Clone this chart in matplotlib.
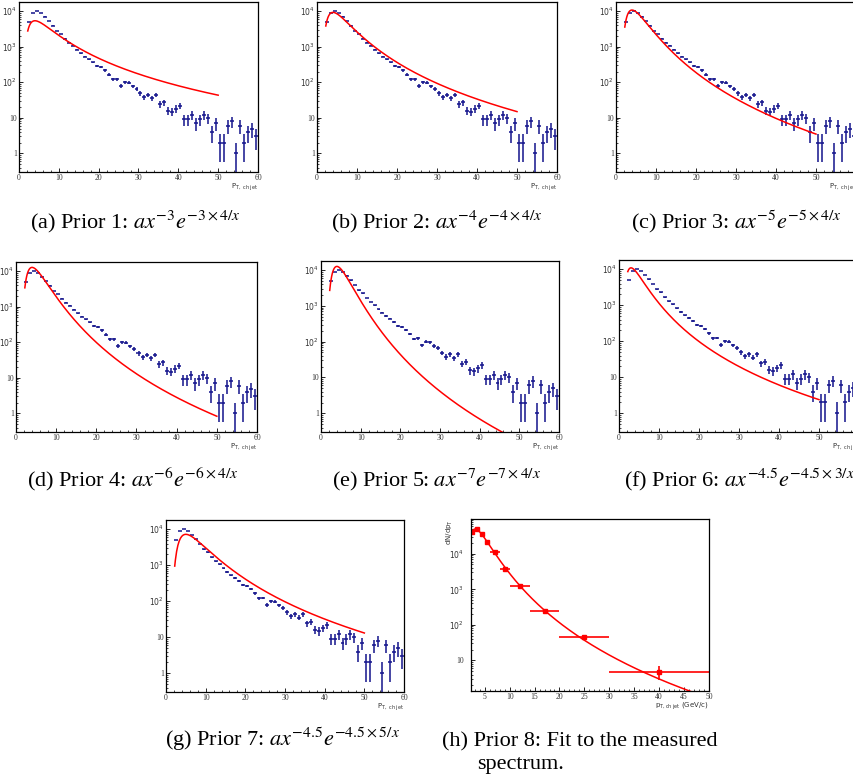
import numpy as np
import matplotlib
matplotlib.use("Agg")
import matplotlib.pyplot as plt
from matplotlib.ticker import FixedLocator, MultipleLocator, NullFormatter

plt.rcParams['font.family'] = ['Liberation Serif', 'DejaVu Serif']
plt.rcParams['mathtext.fontset'] = 'stix'

# measured (unfolded) spectrum shown in panels a-g, 1 GeV bins
pt_centres = np.arange(2.5, 60, 1.0)
counts = [5000, 9000, 10000, 9000, 7000, 5200, 3900, 2750, 2270, 1670,
          1290, 1050, 810, 650, 525, 440, 360, 280, 265, 215,
          165, 120, 123, 79, 100, 97, 76, 66, 49, 38,
          44, 35, 44, 24, 27, 16, 15, 18, 22, 9,
          9, 12, 7, 9, 12, 10, 4, 7, 2, 2,
          6, 8, 1, 6, 2, 4, 5, 3]

# priors a x^-n exp(-n T / x)
prior_n = [3, 4, 5, 6, 7, 4.5, 4.5]
prior_T = [4, 4, 4, 4, 4, 3, 5]
prior_peak = [5350, 9200, 10700, 12700, 12700, 10900, 7200]
captions = [r"(a) Prior 1: $ax^{-3}e^{-3\times4/x}$",
            r"(b) Prior 2: $ax^{-4}e^{-4\times4/x}$",
            r"(c) Prior 3: $ax^{-5}e^{-5\times4/x}$",
            r"(d) Prior 4: $ax^{-6}e^{-6\times4/x}$",
            r"(e) Prior 5: $ax^{-7}e^{-7\times4/x}$",
            r"(f) Prior 6: $ax^{-4.5}e^{-4.5\times3/x}$",
            r"(g) Prior 7: $ax^{-4.5}e^{-4.5\times5/x}$"]

# panel h: measured spectrum with variable bins
h_x = [2.5, 3.5, 4.5, 5.5, 7, 9, 12, 17, 25, 40]
h_xerr = [0.5, 0.5, 0.5, 0.5, 1, 1, 2, 3, 5, 10]
h_y = [4.2e4, 4.9e4, 3.5e4, 2.1e4, 1.1e4, 3.8e3, 1.24e3, 245, 46, 4.8]
h_yerr = [1500, 1800, 1200, 900, 600, 250, 80, 20, 6, 2.0]

W, H = 854, 784
fig = plt.figure(figsize=(W / 100, H / 100), dpi=100)
CAP_SIZE = 16

def add_ax(l, t, r, b):
    return fig.add_axes([l / W, 1 - b / H, (r - l) / W, (b - t) / H])

def root_style(ax):
    for s in ax.spines.values():
        s.set_linewidth(0.9)
    ax.set_yscale('log')
    ax.tick_params(which='both', direction='in', top=False, right=False,
                   labelsize=5.5, labelcolor='#333333', pad=1.5)
    ax.tick_params(which='major', length=3, width=0.6)
    ax.tick_params(which='minor', length=1.6, width=0.5)

log_ticks = [1, 10, 100, 1000, 10000]
log_labels = ['1', '10', r'$10^{2}$', r'$10^{3}$', r'$10^{4}$']
minor = [m * 10.0 ** k for k in range(-1, 5) for m in range(2, 10)]

boxes = [(19, 2, 258, 172), (317, 2, 557, 172), (616, 2, 856, 172),
         (16, 262, 257, 432), (321, 261, 559, 432), (619, 260, 859, 432),
         (166, 520, 404, 692)]
# caption centre x and baseline y
cap_pos = [(135, 228), (437, 228), (736, 228),
           (133, 486), (437, 486), (740, 486), (282, 746)]

counts_a = np.array(counts, dtype=float)
xfun = np.linspace(2.2, 50, 300)
for i, (l, t, r, b) in enumerate(boxes):
    ax = add_ax(l, t, r, b)
    root_style(ax)
    ax.errorbar(pt_centres, counts_a, xerr=0.5, yerr=np.sqrt(counts_a),
                fmt='none', ecolor='#14148c', elinewidth=1.1, capsize=0)
    n, T = prior_n[i], prior_T[i]
    f = (xfun / T) ** (-n) * np.exp(n - n * T / xfun)
    ax.plot(xfun, prior_peak[i] * f, color='#ff0000', lw=1.1)
    ax.set_xlim(0, 60)
    ax.set_ylim(0.3, 18000)
    ax.xaxis.set_major_locator(MultipleLocator(10))
    ax.xaxis.set_minor_locator(MultipleLocator(2))
    ax.yaxis.set_major_locator(FixedLocator(log_ticks))
    ax.yaxis.set_minor_locator(FixedLocator(minor))
    ax.yaxis.set_minor_formatter(NullFormatter())
    ax.set_yticklabels(log_labels, math_fontfamily='dejavusans')
    ax.text(1.0, -0.058, r'P$_{\rm T,\ ch\ jet}$', transform=ax.transAxes,
            ha='right', va='top', fontsize=5, family='DejaVu Sans',
            math_fontfamily='dejavusans', color='#333333')
    cx, cy = cap_pos[i]
    fig.text(cx / W, 1 - cy / H, captions[i], ha='center', va='baseline',
             fontsize=CAP_SIZE)

# panel h: fit of a x^-n exp(-c/x) to the measured points
hx = np.array(h_x)
hy = np.array(h_y)
w = hy / np.array(h_yerr)
A = np.column_stack([np.ones_like(hx), -np.log(hx), -1 / hx]) * w[:, None]
coef = np.linalg.lstsq(A, np.log(hy) * w, rcond=None)[0]

axh = add_ax(471, 519, 709, 691)
root_style(axh)
xh = np.linspace(2.25, 50, 300)
axh.plot(xh, np.exp(coef[0] - coef[1] * np.log(xh) - coef[2] / xh),
         color='#ff0000', lw=1.1)
axh.errorbar(h_x, h_y, xerr=h_xerr, yerr=h_yerr, fmt='s', color='#ff0000',
             ms=2.8, elinewidth=1.2, capsize=0)
axh.set_xlim(2.25, 50)
axh.set_ylim(1.38, 95000)
axh.xaxis.set_major_locator(MultipleLocator(5))
axh.xaxis.set_minor_locator(MultipleLocator(1))
axh.yaxis.set_major_locator(FixedLocator(log_ticks))
axh.yaxis.set_minor_locator(FixedLocator(minor))
axh.yaxis.set_minor_formatter(NullFormatter())
axh.set_yticklabels(log_labels, math_fontfamily='dejavusans')
axh.tick_params(axis='y', pad=5)
axh.text(1.0, -0.058, r'p$_{\rm T,ch\ jet}$ (GeV/c)', transform=axh.transAxes,
         ha='right', va='top', fontsize=5, family='DejaVu Sans',
         math_fontfamily='dejavusans', color='#333333')
axh.text(-0.09, 1.0, r'dN/dp$_{\rm T}$', transform=axh.transAxes, rotation=90,
         ha='center', va='top', fontsize=5, family='DejaVu Sans',
         math_fontfamily='dejavusans', color='#333333')
fig.text(442 / W, 1 - 746 / H, "(h) Prior 8: Fit to the measured",
         ha='left', va='baseline', fontsize=CAP_SIZE)
fig.text(477 / W, 1 - 769 / H, "spectrum.", ha='left', va='baseline',
         fontsize=CAP_SIZE)

fig.savefig('out.png', dpi=100)
